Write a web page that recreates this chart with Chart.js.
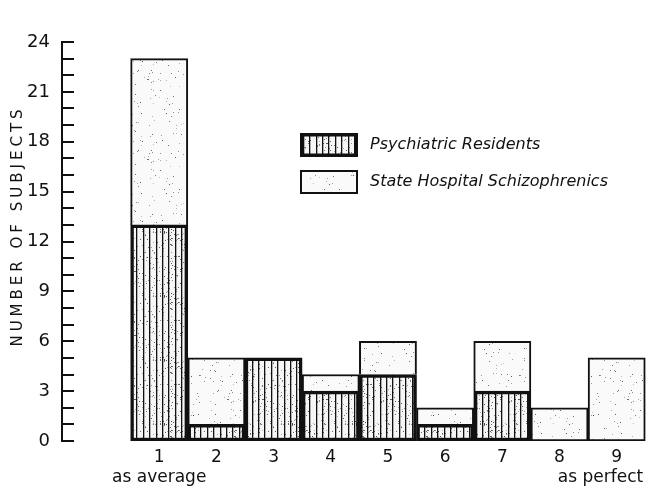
<!DOCTYPE html>
<html>
<head>
<meta charset="utf-8">
<script src="https://cdn.jsdelivr.net/npm/chart.js@4.4.1/dist/chart.umd.min.js"></script>
<style>
  html, body { margin: 0; padding: 0; background: #fff; }
  #wrap { width: 659px; height: 492px; }
</style>
</head>
<body>
<div id="wrap"><canvas id="chart" width="659" height="492"></canvas></div>
<script>
// rating scale 1 (as average) .. 9 (as perfect)
var ratings = [1, 2, 3, 4, 5, 6, 7, 8, 9];
var residents = [13, 1, 5, 3, 4, 1, 3, 0, 0];
var schizophrenics = [10, 4, 0, 1, 2, 1, 3, 2, 5];
var yTicks = [0, 3, 6, 9, 12, 15, 18, 21, 24];
var seriesNames = ['Psychiatric Residents', 'State Hospital Schizophrenics'];
var yTitle = 'NUMBER OF SUBJECTS';

var INK = '#111';
var FONT = '"DejaVu Sans", "Liberation Sans", sans-serif';

// small seeded generator so the stipple looks the same every run
var seed = 7;
function rnd() { seed = (seed * 16807) % 2147483647; return (seed - 1) / 2147483646; }

function makeStipple() {
  var c = document.createElement('canvas');
  c.width = 80; c.height = 80;
  var g = c.getContext('2d');
  g.fillStyle = '#fafafa';
  g.fillRect(0, 0, 80, 80);
  for (var i = 0; i < 110; i++) {
    g.fillStyle = 'rgba(40,40,40,' + (0.25 + rnd() * 0.5) + ')';
    g.fillRect(Math.floor(rnd() * 80), Math.floor(rnd() * 80), 1, 1);
  }
  return g.createPattern(c, 'repeat');
}

function makeHatch() {
  var c = document.createElement('canvas');
  c.width = 64; c.height = 64;
  var g = c.getContext('2d');
  g.fillStyle = '#f6f6f6';
  g.fillRect(0, 0, 64, 64);
  for (var i = 0; i < 260; i++) {
    g.fillStyle = 'rgba(40,40,40,' + (0.3 + rnd() * 0.5) + ')';
    g.fillRect(Math.floor(rnd() * 64), Math.floor(rnd() * 64), 1, 1);
  }
  g.fillStyle = INK;
  for (var x = 2; x < 64; x += 6.4) {
    g.fillRect(Math.round(x), 0, 1.3, 64);
  }
  return g.createPattern(c, 'repeat');
}

var stipple = makeStipple();
var hatch = makeHatch();

// inner tick marks on the y axis, rotated axis title, boxed legend
var extras = {
  id: 'extras',
  afterDraw: function(chart) {
    var ctx = chart.ctx;
    var y = chart.scales.y;
    var area = chart.chartArea;
    ctx.save();
    ctx.strokeStyle = INK;
    ctx.lineWidth = 2;
    for (var v = 0; v <= 24; v++) {
      var py = Math.round(y.getPixelForValue(v));
      ctx.beginPath();
      ctx.moveTo(area.left, py);
      ctx.lineTo(area.left + 12, py);
      ctx.stroke();
    }

    ctx.save();
    ctx.translate(18, 226);
    ctx.rotate(-Math.PI / 2);
    ctx.font = '15px ' + FONT;
    ctx.letterSpacing = '4px';
    ctx.fillStyle = INK;
    ctx.textAlign = 'center';
    ctx.textBaseline = 'middle';
    ctx.fillText(yTitle, 0, 0);
    ctx.restore();

    var lx = area.left + 238, ly = area.top + 91;
    var fills = [hatch, stipple], widths = [3.5, 2];
    ctx.font = 'italic 16px ' + FONT;
    ctx.textBaseline = 'middle';
    for (var i = 0; i < 2; i++) {
      var by = ly + i * 37;
      ctx.fillStyle = fills[i];
      ctx.fillRect(lx, by, 58, 24);
      ctx.lineWidth = widths[i];
      ctx.strokeStyle = INK;
      ctx.strokeRect(lx + widths[i] / 2, by + widths[i] / 2, 58 - widths[i], 24 - widths[i]);
      ctx.fillStyle = INK;
      ctx.fillText(seriesNames[i], lx + 70, by + 12);
    }
    ctx.restore();
  }
};

new Chart(document.getElementById('chart'), {
  type: 'bar',
  data: {
    datasets: [{
      label: seriesNames[0],
      data: ratings.map(function(r, i) { return { x: r, y: residents[i] }; }),
      backgroundColor: hatch,
      borderColor: INK,
      borderWidth: 3.5,
      borderSkipped: false,
      barPercentage: 1,
      categoryPercentage: 1
    }, {
      label: seriesNames[1],
      data: ratings.map(function(r, i) { return { x: r, y: schizophrenics[i] }; }),
      backgroundColor: stipple,
      borderColor: INK,
      borderWidth: 2,
      borderSkipped: function(c) { return residents[c.dataIndex] > 0 ? 'bottom' : false; },
      barPercentage: 1,
      categoryPercentage: 1
    }]
  },
  options: {
    responsive: false,
    animation: false,
    layout: { padding: { top: 42, right: 8, left: 0, bottom: 0 } },
    plugins: { legend: { display: false }, tooltip: { enabled: false } },
    scales: {
      x: {
        type: 'linear',
        stacked: true,
        offset: false,
        min: -0.7,
        max: 9.6,
        afterBuildTicks: function(s) { s.ticks = ratings.map(function(v) { return { value: v }; }); },
        afterFit: function(s) { s.height = 51; s.paddingLeft = 0; s.paddingRight = 0; },
        grid: { display: false, drawTicks: false },
        border: { display: false },
        ticks: {
          color: INK,
          font: { family: FONT, size: 17, lineHeight: 1.2 },
          maxRotation: 0,
          autoSkip: false,
          padding: 6,
          callback: function(v) {
            if (v === 1) return ['1', 'as average'];
            if (v === 9) return ['9', 'as perfect      '];
            return String(v);
          }
        }
      },
      y: {
        stacked: true,
        min: 0,
        max: 24,
        afterBuildTicks: function(s) { s.ticks = yTicks.map(function(v) { return { value: v }; }); },
        afterFit: function(s) { s.width = 62; },
        grid: { display: false, drawTicks: false },
        border: { display: true, color: INK, width: 2 },
        ticks: { color: INK, font: { family: FONT, size: 18 }, padding: 12 }
      }
    }
  },
  plugins: [extras]
});
</script>
</body>
</html>
